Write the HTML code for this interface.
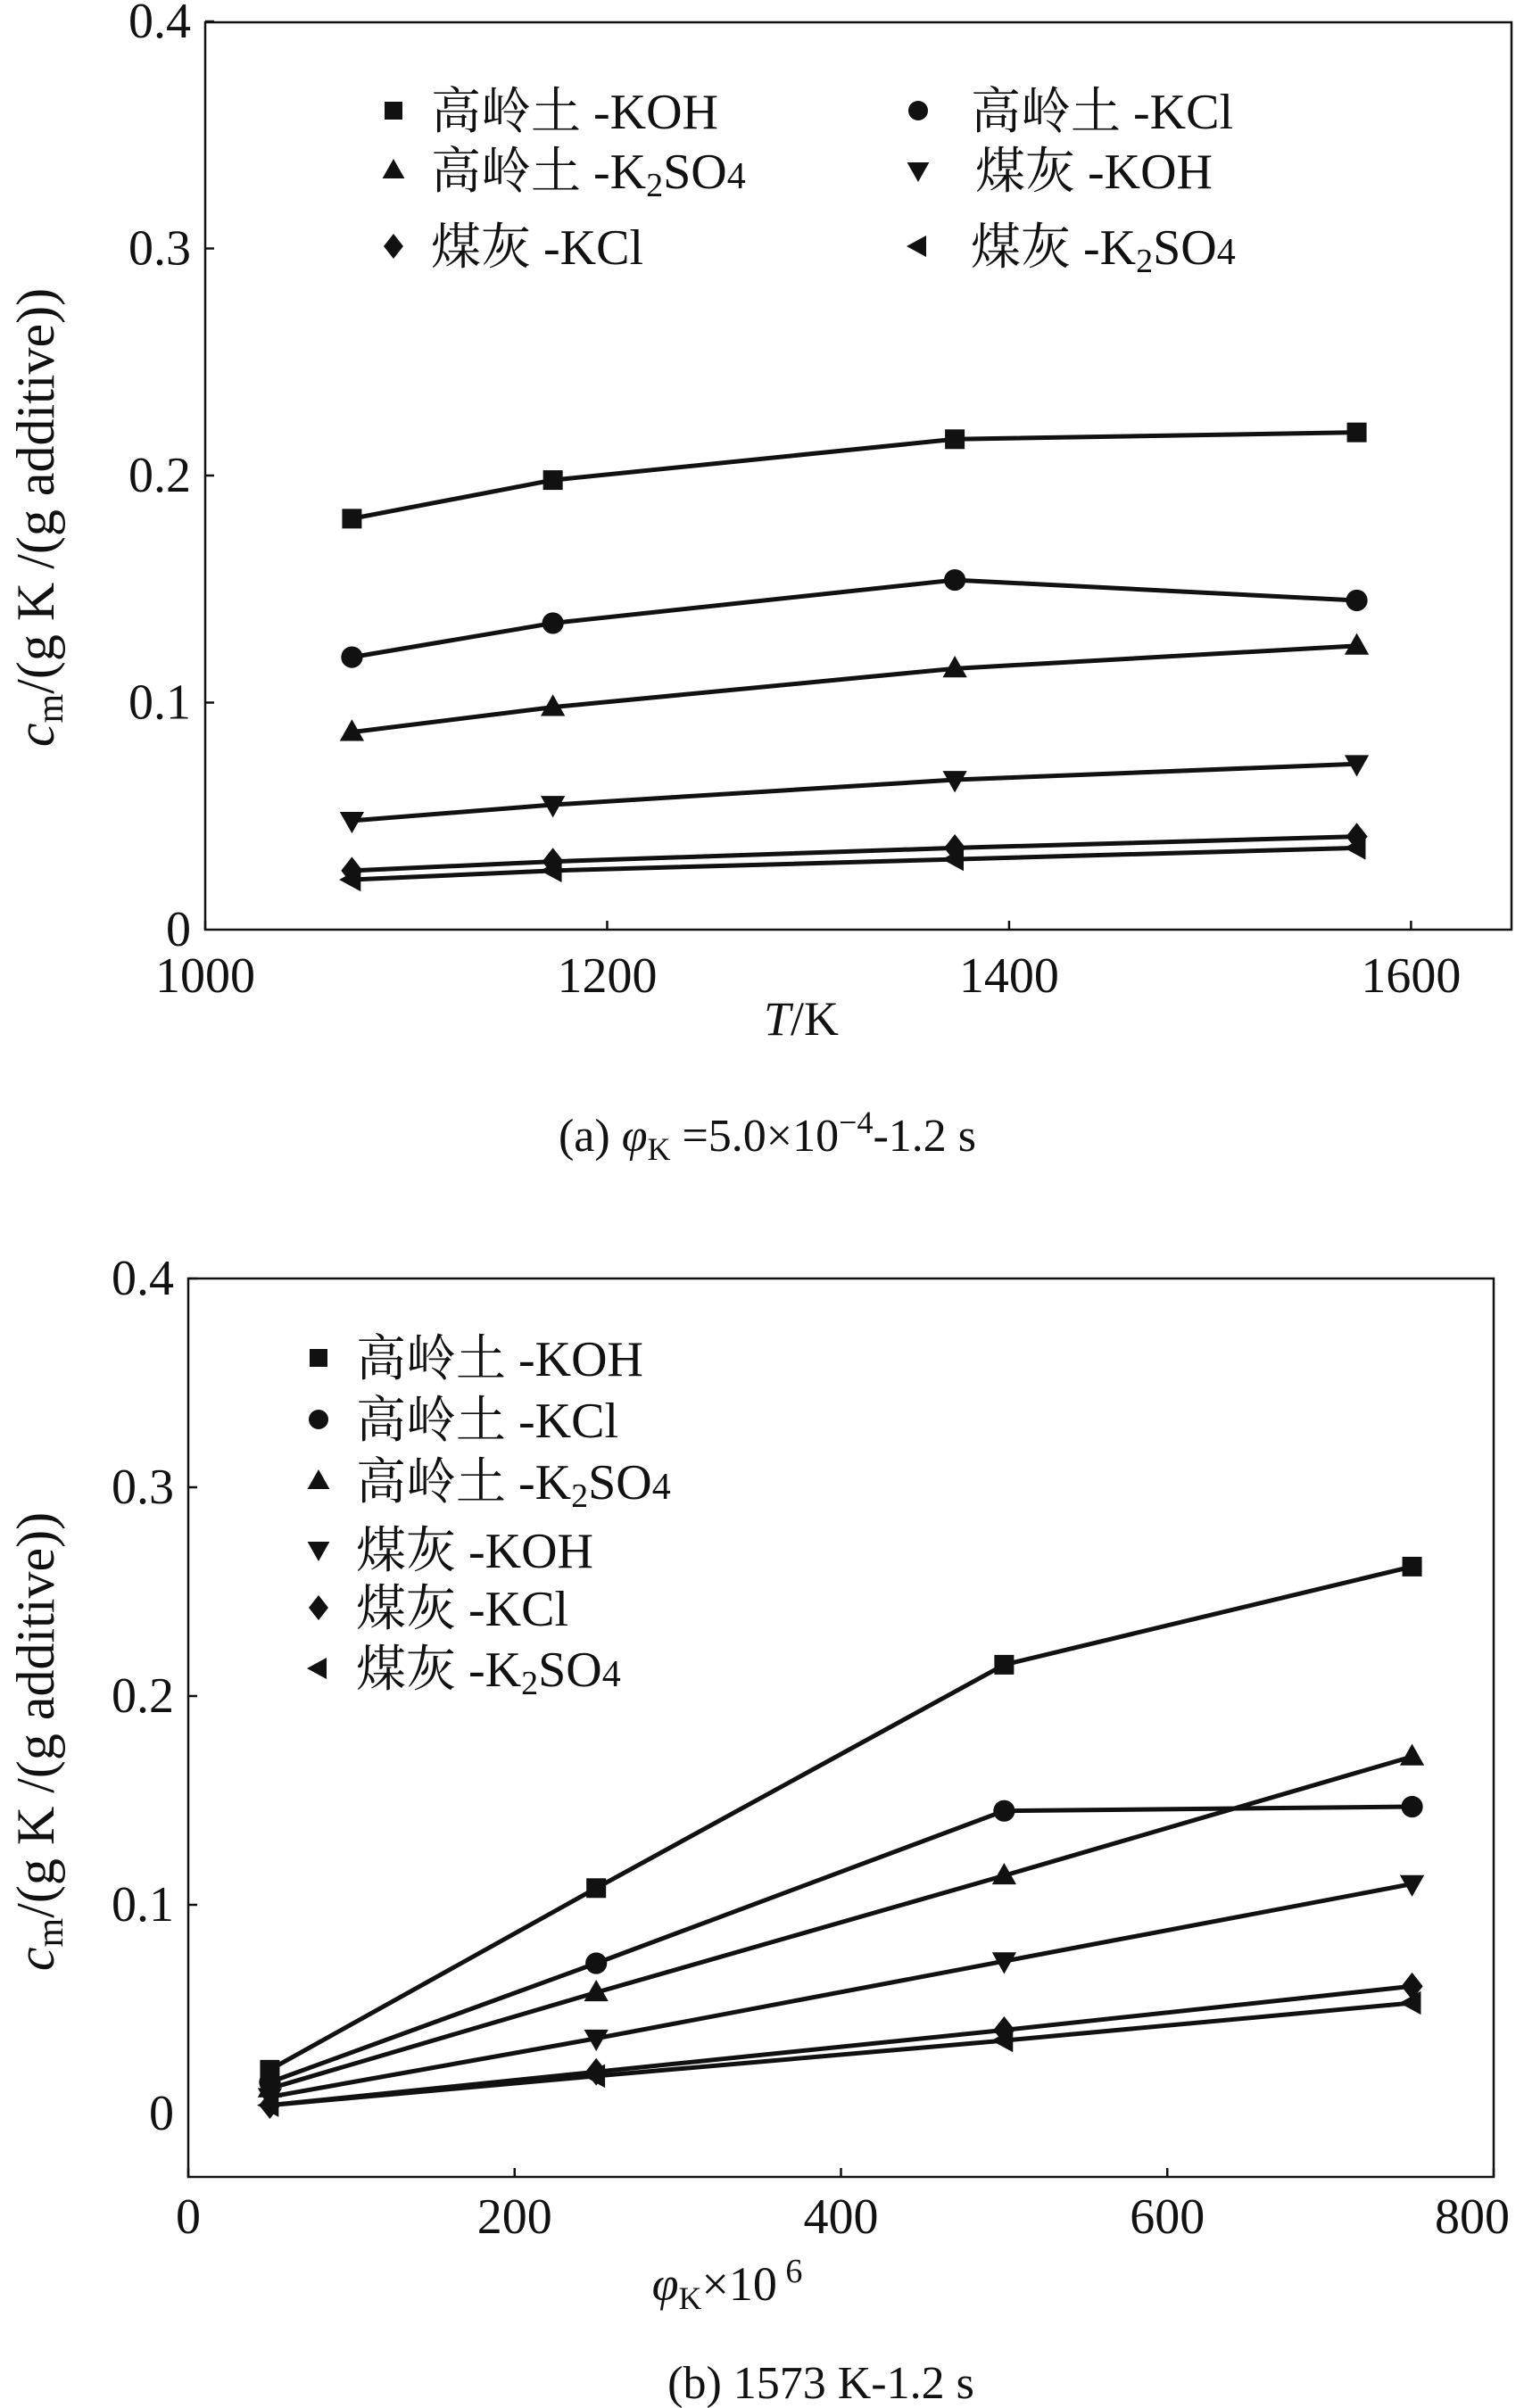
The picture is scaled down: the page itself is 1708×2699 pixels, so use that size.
<!DOCTYPE html>
<html><head><meta charset="utf-8">
<style>
html,body{margin:0;padding:0;background:#fff;}
svg{display:block;}
text{font-family:"Liberation Serif","Noto Serif CJK SC",serif;fill:#111;}
</style></head>
<body>
<svg id="fig" width="1708" height="2699" viewBox="0 0 1708 2699" xmlns="http://www.w3.org/2000/svg"></svg>
<script>
// ---- Chart (a) data ----
const tempsA = [1073, 1173, 1373, 1573];
const kaoKOH_A = [0.181, 0.198, 0.216, 0.219];
const kaoKCl_A = [0.120, 0.135, 0.154, 0.145];
const kaoK2SO4_A = [0.087, 0.098, 0.115, 0.125];
const ashKOH_A = [0.048, 0.055, 0.066, 0.073];
const ashKCl_A = [0.026, 0.030, 0.036, 0.041];
const ashK2SO4_A = [0.022, 0.026, 0.031, 0.036];
const xTicksA = [1000, 1200, 1400, 1600];
const yTicks = [0, 0.1, 0.2, 0.3, 0.4];
const yTickLabels = ["0", "0.1", "0.2", "0.3", "0.4"];
// ---- Chart (b) data ----
const phiB = [50, 250, 500, 750];
const kaoKOH_B = [0.021, 0.108, 0.215, 0.262];
const kaoKCl_B = [0.015, 0.072, 0.145, 0.147];
const kaoK2SO4_B = [0.012, 0.058, 0.114, 0.171];
const ashKOH_B = [0.008, 0.036, 0.073, 0.110];
const ashKCl_B = [0.004, 0.020, 0.040, 0.061];
const ashK2SO4_B = [0.004, 0.018, 0.035, 0.053];
const xTicksB = [0, 200, 400, 600, 800];
const seriesNames = ["kaolin-koh", "kaolin-kcl", "kaolin-k2so4", "ash-koh", "ash-kcl", "ash-k2so4"];
const markerTypes = ["square", "circle", "triangle-up", "triangle-down", "diamond", "triangle-left"];

const NS = "http://www.w3.org/2000/svg";
const fig = document.getElementById('fig');
function mk(tag, attrs, parent) {
  const e = document.createElementNS(NS, tag);
  for (const k in attrs) e.setAttribute(k, attrs[k]);
  (parent || fig).appendChild(e);
  return e;
}
function marker(type, x, y, s, parent) {
  let e;
  if (type === "square") e = mk('rect', {x: x - s*0.5, y: y - s*0.5, width: s, height: s, fill: '#111'}, parent);
  else if (type === "circle") e = mk('circle', {cx: x, cy: y, r: s*0.55, fill: '#111'}, parent);
  else if (type === "triangle-up") e = mk('polygon', {points: `${x},${y-s*0.65} ${x+s*0.62},${y+s*0.45} ${x-s*0.62},${y+s*0.45}`, fill: '#111'}, parent);
  else if (type === "triangle-down") e = mk('polygon', {points: `${x},${y+s*0.65} ${x+s*0.62},${y-s*0.45} ${x-s*0.62},${y-s*0.45}`, fill: '#111'}, parent);
  else if (type === "diamond") e = mk('polygon', {points: `${x},${y-s*0.7} ${x+s*0.55},${y} ${x},${y+s*0.7} ${x-s*0.55},${y}`, fill: '#111'}, parent);
  else e = mk('polygon', {points: `${x-s*0.65},${y} ${x+s*0.45},${y-s*0.6} ${x+s*0.45},${y+s*0.6}`, fill: '#111'}, parent);
  return e;
}
function legendLabel(g, x, y, prefix, suffix) {
  const t = mk('text', {x: x, y: y, 'font-size': 56}, g);
  t.appendChild(document.createTextNode(prefix + ' -'));
  if (suffix === 'K2SO4') {
    const a = mk('tspan', {}, t); a.textContent = 'K';
    const b = mk('tspan', {'font-size': 38, dy: 9}, t); b.textContent = '2';
    const c = mk('tspan', {dy: -9}, t); c.textContent = 'SO';
    const d = mk('tspan', {'font-size': 42}, t); d.textContent = '4';
  } else {
    const a = mk('tspan', {}, t); a.textContent = suffix;
  }
  return t;
}
const prefixes = ["高岭土", "高岭土", "高岭土", "煤灰", "煤灰", "煤灰"];
const suffixes = ["KOH", "KCl", "K2SO4", "KOH", "KCl", "K2SO4"];

function drawChart(cfg) {
  const g = mk('g', {});
  
  
  const X = v => cfg.L + (v - cfg.xMin) / (cfg.xMax - cfg.xMin) * (cfg.R - cfg.L);
  const Y = v => cfg.y0 - v / 0.4 * (cfg.y0 - cfg.y4);
  const frame = mk('rect', {x: cfg.L, y: cfg.T, width: cfg.R - cfg.L, height: cfg.B - cfg.T, fill: 'none', stroke: '#111', 'stroke-width': 2.5}, g);
  
  
  yTicks.forEach((v, i) => {
    const y = Y(v);
    if (i > 0) mk('line', {x1: cfg.L, x2: cfg.L + 10, y1: y, y2: y, stroke: '#111', 'stroke-width': 2.5}, g);
    const t = mk('text', {x: cfg.L - 16, y: y + 18, 'font-size': 56, 'text-anchor': 'end'}, g);
    t.textContent = yTickLabels[i];
    
    
  });
  cfg.xTicks.forEach(v => {
    const x = X(v);
    mk('line', {x1: x, x2: x, y1: cfg.B, y2: cfg.B - 10, stroke: '#111', 'stroke-width': 2.5}, g);
    const t = mk('text', {x: Math.min(x, 1708 - 58), y: cfg.xLabelY, 'font-size': 56, 'text-anchor': 'middle'}, g);
    t.textContent = String(v);
    
    
  });
  cfg.series.forEach((vals, si) => {
    const sg = mk('g', {}, g);
    
    
    const pts = vals.map((v, i) => X(cfg.xs[i]) + ',' + Y(v)).join(' ');
    const pl = mk('polyline', {points: pts, fill: 'none', stroke: '#111', 'stroke-width': 5, 'stroke-linejoin': 'round'}, sg);
    
    
    vals.forEach((v, i) => {
      const m = marker(markerTypes[si], X(cfg.xs[i]), Y(v), 22, sg);
      
      
    });
  });
  const lg = mk('g', {}, g);
  
  
  cfg.legendPos.forEach((p, i) => {
    const eg = mk('g', {}, lg);
    
    
    marker(markerTypes[i], p[0], p[1], 20, eg);
    legendLabel(eg, p[2], p[1] + 20, prefixes[i], suffixes[i]);
  });
  const yt = mk('text', {x: 0, y: 0, 'font-size': 60, 'text-anchor': 'middle', transform: `translate(${cfg.yTitleX},${cfg.yTitleY}) rotate(-90)`}, g);
  
  
  const c1 = mk('tspan', {'font-style': 'italic'}, yt); c1.textContent = 'c';
  const c2 = mk('tspan', {'font-size': 42, dy: 10}, yt); c2.textContent = 'm';
  const c3 = mk('tspan', {dy: -10}, yt); c3.textContent = '/(g K /(g additive))';
  const xt = mk('text', {x: cfg.xTitleX, y: cfg.xTitleY, 'font-size': 54, 'text-anchor': 'middle'}, g);
  
  
  if (cfg.xTitle === 'T') {
    const a = mk('tspan', {'font-style': 'italic'}, xt); a.textContent = 'T';
    const b = mk('tspan', {}, xt); b.textContent = '/K';
  } else {
    const a = mk('tspan', {'font-style': 'italic'}, xt); a.textContent = 'φ';
    const b = mk('tspan', {'font-size': 36, dy: 10}, xt); b.textContent = 'K';
    const c = mk('tspan', {dy: -10}, xt); c.textContent = '×10';
    const d = mk('tspan', {'font-size': 38, dy: -20}, xt); d.textContent = ' 6';
  }
  const cap = mk('text', {x: cfg.capX, y: cfg.capY, 'font-size': 52, 'text-anchor': 'middle'}, g);
  
  
  if (cfg.xTitle === 'T') {
    const a = mk('tspan', {}, cap); a.textContent = '(a) ';
    const b = mk('tspan', {'font-style': 'italic'}, cap); b.textContent = 'φ';
    const c = mk('tspan', {'font-size': 36, dy: 10}, cap); c.textContent = 'K';
    const d = mk('tspan', {dy: -10}, cap); d.textContent = ' =5.0×10';
    const e = mk('tspan', {'font-size': 36, dy: -20}, cap); e.textContent = '−4';
    const f = mk('tspan', {dy: 20}, cap); f.textContent = '-1.2 s';
  } else {
    cap.textContent = '(b) 1573 K-1.2 s';
  }
}

drawChart({
  name: 'chart-a-temperature', L: 230, R: 1694, T: 25, B: 1042,
  xMin: 1000, xMax: 1650, y0: 1042, y4: 24,
  xs: tempsA, xTicks: xTicksA, xLabelY: 1112,
  series: [kaoKOH_A, kaoKCl_A, kaoK2SO4_A, ashKOH_A, ashKCl_A, ashK2SO4_A],
  legendPos: [[441,124,483],[1029,124,1088],[441,191,483],[1029,191,1093],[441,276,483],[1029,276,1088]],
  yTitleX: 60, yTitleY: 580, xTitle: 'T', xTitleX: 898, xTitleY: 1160, capX: 860, capY: 1290
});
drawChart({
  name: 'chart-b-concentration', L: 211, R: 1674, T: 1433, B: 2440,
  xMin: 0, xMax: 800, y0: 2369, y4: 1433,
  xs: phiB, xTicks: xTicksB, xLabelY: 2503,
  series: [kaoKOH_B, kaoKCl_B, kaoK2SO4_B, ashKOH_B, ashKCl_B, ashK2SO4_B],
  legendPos: [[357,1522,399],[357,1591,399],[357,1660,399],[357,1737,399],[357,1802,399],[357,1870,399]],
  yTitleX: 60, yTitleY: 1952, xTitle: 'phi', xTitleX: 815, xTitleY: 2578, capX: 920, capY: 2688
});
</script>
</body></html>
